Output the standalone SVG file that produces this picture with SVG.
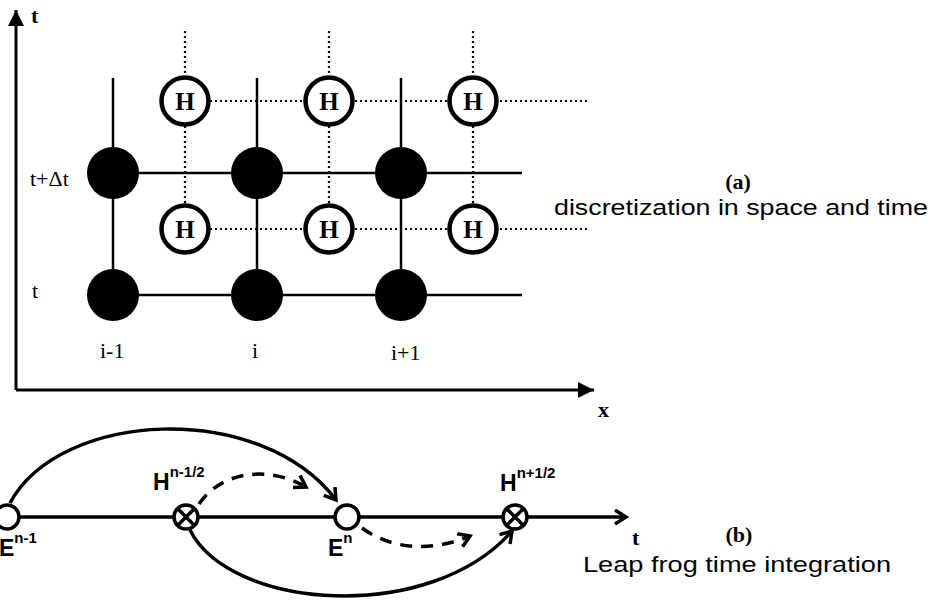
<svg xmlns="http://www.w3.org/2000/svg" width="933" height="606" viewBox="0 0 933 606">
<style>
.ax{stroke:#000;stroke-width:3;fill:none}
.grid{stroke:#000;stroke-width:2.5;fill:none}
.dot{stroke:#000;stroke-width:2.2;stroke-dasharray:2 3;fill:none}
.e{fill:#000}
.h{fill:#fff;stroke:#000;stroke-width:4.5}
.ht{font-family:"Liberation Serif",serif;font-weight:bold;font-size:25px;text-anchor:middle}
.tm{font-family:"Liberation Serif",serif;font-size:22px}
.tb{font-family:"Liberation Serif",serif;font-weight:bold;font-size:22px}
.ar{font-family:"Liberation Sans",Arial,sans-serif;font-size:22px}
.lb{font-family:"Liberation Sans",Arial,sans-serif;font-weight:bold;font-size:23px}
.sp{font-family:"Liberation Sans",Arial,sans-serif;font-weight:bold;font-size:15px}
.c{stroke:#000;stroke-width:3.5;fill:none}
.d{stroke:#000;stroke-width:3.5;fill:none;stroke-dasharray:12 9}
.oc{fill:#fff;stroke:#000;stroke-width:3.5}
</style>
<defs>
<marker id="ah" markerWidth="20" markerHeight="20" refX="12" refY="8" orient="auto" markerUnits="userSpaceOnUse">
<path d="M1,1 L12,8 L1,15" fill="none" stroke="#000" stroke-width="3.5"/>
</marker>
<marker id="tri" markerWidth="18" markerHeight="16" refX="16" refY="8" orient="auto" markerUnits="userSpaceOnUse">
<path d="M0,0 L16,8 L0,16 Z" fill="#000"/>
</marker>
</defs>

<g id="axes">
<line class="ax" x1="16" y1="390" x2="16" y2="10" marker-end="url(#tri)"/>
<line class="ax" x1="16" y1="390" x2="594" y2="390" marker-end="url(#tri)"/>
<text class="tb" x="31" y="23">t</text>
<text class="tb" x="598" y="417">x</text>
</g>

<g id="connectors">
<line class="grid" x1="113" y1="78" x2="113" y2="295"/>
<line class="grid" x1="257" y1="78" x2="257" y2="295"/>
<line class="grid" x1="401" y1="78" x2="401" y2="295"/>
<line class="grid" x1="113" y1="173" x2="522" y2="173"/>
<line class="grid" x1="113" y1="295" x2="522" y2="295"/>
<line class="dot" x1="185" y1="31" x2="185" y2="229"/>
<line class="dot" x1="329" y1="31" x2="329" y2="229"/>
<line class="dot" x1="473" y1="31" x2="473" y2="229"/>
<line class="dot" x1="185" y1="101" x2="590" y2="101"/>
<line class="dot" x1="185" y1="229" x2="590" y2="229"/>
</g>

<g id="E-nodes">
<circle class="e" cx="113" cy="173" r="26"/>
<circle class="e" cx="257" cy="173" r="26"/>
<circle class="e" cx="401" cy="173" r="26"/>
<circle class="e" cx="113" cy="295" r="26"/>
<circle class="e" cx="257" cy="295" r="26"/>
<circle class="e" cx="401" cy="295" r="26"/>
</g>

<g id="H-nodes">
<circle class="h" cx="185" cy="101" r="23.5"/><text class="ht" x="185" y="110">H</text>
<circle class="h" cx="329" cy="101" r="23.5"/><text class="ht" x="329" y="110">H</text>
<circle class="h" cx="473" cy="101" r="23.5"/><text class="ht" x="473" y="110">H</text>
<circle class="h" cx="185" cy="229" r="23.5"/><text class="ht" x="185" y="238">H</text>
<circle class="h" cx="329" cy="229" r="23.5"/><text class="ht" x="329" y="238">H</text>
<circle class="h" cx="473" cy="229" r="23.5"/><text class="ht" x="473" y="238">H</text>
</g>

<g id="grid-labels">
<text class="tm" x="30" y="186">t+Δt</text>
<text class="tm" x="32" y="298">t</text>
<text class="tm" x="100" y="358">i-1</text>
<text class="tm" x="252" y="358">i</text>
<text class="tm" x="391" y="360">i+1</text>
<text class="tb" x="738" y="189" text-anchor="middle">(a)</text>
<text class="ar" x="741" y="215" text-anchor="middle" textLength="374" lengthAdjust="spacingAndGlyphs">discretization in space and time</text>
</g>

<g id="leapfrog-connectors">
<line class="c" x1="7" y1="517" x2="626" y2="517" marker-end="url(#ah)"/>
<path class="c" d="M10,503 C60,410 260,400 336,500" marker-end="url(#ah)"/>
<path class="d" d="M199,504 C222,470 270,466 306,487" marker-end="url(#ah)"/>
<path class="c" d="M190,530 C230,610 430,625 512,531" marker-end="url(#ah)"/>
<path class="d" d="M362,528 C392,550 432,552 470,536" marker-end="url(#ah)"/>
</g>

<g id="node-En-1">
<circle class="oc" cx="7" cy="517" r="12"/>
<text class="lb" x="-1" y="556">E<tspan class="sp" dy="-13">n-1</tspan></text>
</g>
<g id="node-Hn-half">
<circle class="oc" cx="186" cy="517" r="12"/>
<path class="c" d="M178,509 L194,525 M194,509 L178,525" stroke-width="2.5"/>
<text class="lb" x="153" y="490">H<tspan class="sp" dy="-13">n-1/2</tspan></text>
</g>
<g id="node-En">
<circle class="oc" cx="347" cy="517" r="12"/>
<text class="lb" x="328" y="556">E<tspan class="sp" dy="-13">n</tspan></text>
</g>
<g id="node-Hn1-half">
<circle class="oc" cx="515" cy="517" r="12"/>
<path class="c" d="M507,509 L523,525 M523,509 L507,525" stroke-width="2.5"/>
<text class="lb" x="500" y="491">H<tspan class="sp" dy="-13">n+1/2</tspan></text>
</g>

<g id="leapfrog-labels">
<text class="tb" x="632" y="545" font-size="20">t</text>
<text class="tb" x="739" y="542" text-anchor="middle">(b)</text>
<text class="ar" x="737" y="572" text-anchor="middle" textLength="308" lengthAdjust="spacingAndGlyphs">Leap frog time integration</text>
</g>
</svg>
